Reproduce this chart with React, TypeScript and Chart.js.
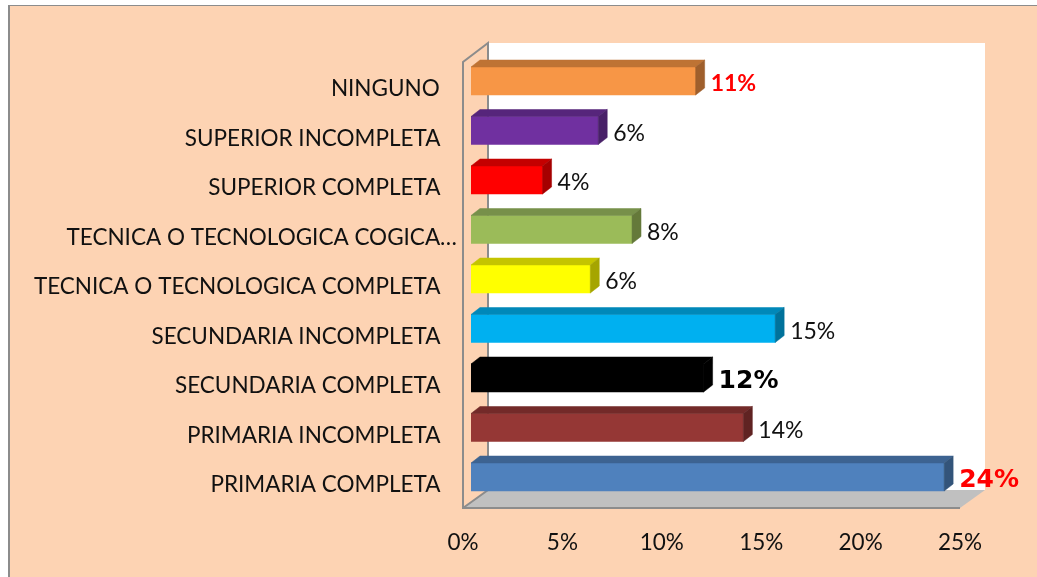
import React, { useEffect, useRef } from "react";
import { Chart, registerables } from "chart.js";

Chart.register(...registerables);

const categories = [
  "NINGUNO",
  "SUPERIOR INCOMPLETA",
  "SUPERIOR COMPLETA",
  "TECNICA O TECNOLOGICA COGICA…",
  "TECNICA O TECNOLOGICA COMPLETA",
  "SECUNDARIA INCOMPLETA",
  "SECUNDARIA COMPLETA",
  "PRIMARIA INCOMPLETA",
  "PRIMARIA COMPLETA",
];
const values = [11.3, 6.4, 3.6, 8.1, 6.0, 15.3, 11.7, 13.7, 23.8];
const valueLabels = ["11%", "6%", "4%", "8%", "6%", "15%", "12%", "14%", "24%"];
const frontColors = ["#F79646", "#7030A0", "#FF0000", "#9BBB59", "#FFFF00", "#00B0F0", "#000000", "#953735", "#4F81BD"];
const topColors = ["#BE7334", "#56257B", "#C40000", "#77904A", "#C4C400", "#0088B9", "#000000", "#732A29", "#3D6391"];
const sideColors = ["#9F5F2C", "#482068", "#A50000", "#65793A", "#A5A500", "#00729B", "#000000", "#602322", "#33547A"];
const labelColors = ["#FF0000", "#111111", "#111111", "#111111", "#111111", "#111111", "#000000", "#111111", "#FF0000"];
const labelFonts = [
  "bold 23px Lato", "23px Lato", "23px Lato", "23px Lato", "23px Lato", "23px Lato",
  "bold 25px 'DejaVu Sans'", "23px Lato", "bold 25px 'DejaVu Sans'",
];
const overflowCategory = 3;

const DX = 9;
const DY = 7;

const poly = (ctx: CanvasRenderingContext2D, pts: number[][], fill?: string, stroke?: string, lw = 1) => {
  ctx.beginPath();
  pts.forEach((p, i) => (i ? ctx.lineTo(p[0], p[1]) : ctx.moveTo(p[0], p[1])));
  ctx.closePath();
  if (fill) { ctx.fillStyle = fill; ctx.fill(); }
  if (stroke) { ctx.strokeStyle = stroke; ctx.lineWidth = lw; ctx.stroke(); }
};

const scene3d = {
  id: "scene3d",
  beforeDraw(chart: any) {
    const { ctx, width, height, scales } = chart;
    const x0 = scales.x.getPixelForValue(0) - 8;
    const x25 = scales.x.getPixelForValue(25) - 8;
    const frontTop = 62, frontBottom = 508, backTop = 43, backBottom = 490, wallDx = 25;
    ctx.save();
    ctx.fillStyle = "#FFFFFF";
    ctx.fillRect(0, 0, width, height);
    ctx.fillStyle = "#FDD3B3";
    ctx.fillRect(8, 5, width - 8, height - 5);
    ctx.fillStyle = "#8C8C8C";
    ctx.fillRect(8, 5, width - 8, 1);
    ctx.fillRect(8, 5, 2, height - 5);
    ctx.fillStyle = "#FFFFFF";
    ctx.fillRect(x0 + wallDx, backTop, x25 - x0, backBottom - backTop);
    poly(ctx, [[x0, frontBottom], [x25, frontBottom], [x25 + wallDx, backBottom], [x0 + wallDx, backBottom]], "#C0C0C0");
    ctx.strokeStyle = "#8C8C8C";
    ctx.lineWidth = 2;
    ctx.beginPath();
    ctx.moveTo(x25, frontBottom);
    ctx.lineTo(x0, frontBottom);
    ctx.lineTo(x0, frontTop);
    ctx.lineTo(x0 + wallDx, backTop);
    ctx.lineTo(x0 + wallDx, backBottom);
    ctx.lineTo(x0, frontBottom);
    ctx.stroke();
    ctx.restore();
  },
  afterDatasetsDraw(chart: any) {
    const { ctx } = chart;
    const meta = chart.getDatasetMeta(0);
    ctx.save();
    meta.data.forEach((bar: any, i: number) => {
      const top = bar.y - bar.height / 2;
      const bottom = bar.y + bar.height / 2;
      const left = bar.base;
      const right = bar.x;
      poly(ctx, [[left, top], [left + DX, top - DY], [right + DX, top - DY], [right, top]], topColors[i], topColors[i], 0.5);
      poly(ctx, [[right, top], [right + DX, top - DY], [right + DX, bottom - DY], [right, bottom]], sideColors[i], sideColors[i], 0.5);
      ctx.font = labelFonts[i];
      ctx.fillStyle = labelColors[i];
      ctx.textAlign = "left";
      ctx.textBaseline = "middle";
      ctx.fillText(valueLabels[i], right + DX + 6, bar.y + 3);
    });
    ctx.restore();
  },
};

export default function App() {
  const ref = useRef<HTMLCanvasElement>(null);
  useEffect(() => {
    const chart = new Chart(ref.current as HTMLCanvasElement, {
      type: "bar",
      data: {
        labels: categories,
        datasets: [{ data: values, backgroundColor: frontColors, barThickness: 28, borderSkipped: false }],
      },
      plugins: [scene3d],
      options: {
        indexAxis: "y",
        animation: false,
        responsive: false,
        layout: { padding: { top: 56.25, right: 69, left: 0, bottom: 0 } },
        plugins: { legend: { display: false }, tooltip: { enabled: false } },
        scales: {
          x: {
            min: 0,
            max: 25,
            grid: { display: false },
            border: { display: false },
            afterFit: (s: any) => { s.height = 75.25; },
            ticks: {
              stepSize: 5,
              color: "#111111",
              maxRotation: 0,
              labelOffset: -8,
              padding: 19,
              font: { family: "Lato", size: 22.5 },
              callback: (v: any) => `${v}%`,
            },
          },
          y: {
            grid: { display: false },
            border: { display: false },
            afterFit: (s: any) => { s.width = 471; },
            ticks: {
              color: "#111111",
              autoSkip: false,
              padding: 6,
              labelOffset: 8,
              font: { family: "Lato", size: 22.5 },
              callback: (_v: any, i: number) =>
                i === overflowCategory ? categories[i] : categories[i] + "\u00A0\u00A0\u00A0",
            },
          },
        },
      },
    } as any);
    return () => chart.destroy();
  }, []);
  return (
    <div style={{ position: "absolute", left: 0, top: 0, width: 1037, height: 577, overflow: "hidden" }}>
      <canvas ref={ref} width={1037} height={577} style={{ display: "block" }} />
    </div>
  );
}
